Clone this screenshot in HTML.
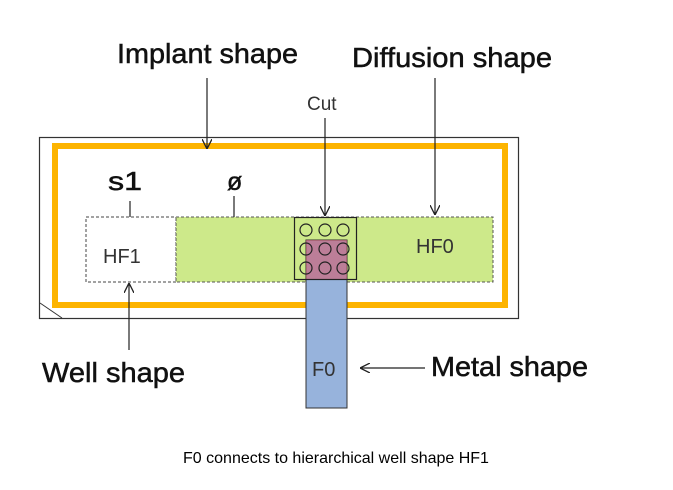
<!DOCTYPE html>
<html><head><style>html,body{margin:0;padding:0;background:#fff}svg{display:block}</style></head>
<body>
<svg width="673" height="490" viewBox="0 0 673 490" xmlns="http://www.w3.org/2000/svg" font-family="Liberation Sans, Arial, sans-serif">
<defs>
<marker id="ah" viewBox="0 0 10 10" refX="10" refY="5" markerWidth="10" markerHeight="10" orient="auto" markerUnits="userSpaceOnUse"><path d="M0,0 L10,5 L0,10" fill="none" stroke="#222" stroke-width="1.3"/></marker>
</defs>
<rect x="0" y="0" width="673" height="490" fill="#fff"/>
<rect x="39.5" y="137.5" width="479" height="181" fill="none" stroke="#333" stroke-width="1.2"/>
<line x1="40" y1="303" x2="62" y2="318" stroke="#333" stroke-width="1"/>
<rect x="55" y="146" width="450" height="159" fill="none" stroke="#fdb400" stroke-width="6"/>
<rect x="86" y="217" width="90" height="65" fill="#fff" stroke="#444" stroke-width="1" stroke-dasharray="3,2"/>
<rect x="176" y="217" width="317" height="65" fill="#cde98a" stroke="#555" stroke-width="1" stroke-dasharray="3,2"/>
<rect x="306" y="240" width="41" height="168" fill="#97b3dc" stroke="#333" stroke-width="1"/>
<rect x="306" y="240" width="41" height="40" fill="#d55a6a" opacity="0.6"/>
<rect x="294.5" y="217.5" width="62" height="62" fill="none" stroke="#222" stroke-width="1.2"/>
<g fill="none" stroke="#222" stroke-width="1.2">
<circle cx="306" cy="230" r="6"/><circle cx="325" cy="230" r="6"/><circle cx="343" cy="230" r="6"/>
<circle cx="306" cy="249" r="6"/><circle cx="325" cy="249" r="6"/><circle cx="343" cy="249" r="6"/>
<circle cx="306" cy="268" r="6"/><circle cx="325" cy="268" r="6"/><circle cx="343" cy="268" r="6"/>
</g>
<g stroke="#222" stroke-width="1.2" fill="none">
<line x1="207" y1="78" x2="207" y2="149" marker-end="url(#ah)"/>
<line x1="435" y1="78" x2="435" y2="215" marker-end="url(#ah)"/>
<line x1="325" y1="118" x2="325" y2="216" marker-end="url(#ah)"/>
<line x1="129" y1="350" x2="129" y2="283" marker-end="url(#ah)"/>
<line x1="425" y1="368" x2="360" y2="368" marker-end="url(#ah)"/>
<line x1="130" y1="201" x2="130" y2="217"/>
<line x1="234" y1="196" x2="234" y2="217"/>
</g>
<g fill="#111" stroke="#111" stroke-width="0.5">
<text x="117" y="63" font-size="28" textLength="181" lengthAdjust="spacingAndGlyphs">Implant shape</text>
<text x="352" y="67" font-size="28" textLength="200" lengthAdjust="spacingAndGlyphs">Diffusion shape</text>
<text x="42" y="382" font-size="28" textLength="143" lengthAdjust="spacingAndGlyphs">Well shape</text>
<text x="431" y="376" font-size="28" textLength="157" lengthAdjust="spacingAndGlyphs">Metal shape</text>
<text x="108" y="190" font-size="26" textLength="34" lengthAdjust="spacingAndGlyphs">s1</text>
<text x="227" y="190" font-size="25">ø</text>
</g>
<g fill="#333">
<text x="307" y="110" font-size="19">Cut</text>
<text x="103" y="263" font-size="20">HF1</text>
<text x="416" y="253" font-size="20">HF0</text>
<text x="312" y="376" font-size="20">F0</text>
</g>
<text x="336" y="463" font-size="16" text-anchor="middle" fill="#000">F0 connects to hierarchical well shape HF1</text>
</svg>
</body></html>
